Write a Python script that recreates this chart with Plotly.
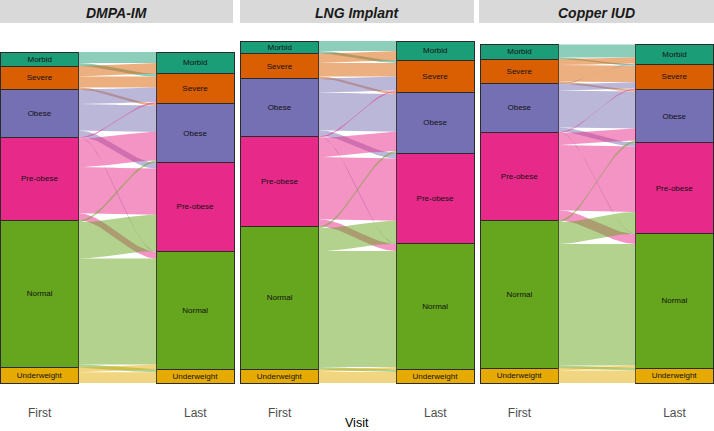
import numpy as np
import plotly.graph_objects as go

# ---------------- data ----------------
categories = ["Morbid", "Severe", "Obese", "Pre-obese", "Normal", "Underweight"]  # top -> bottom
colors = ["#1B9E77", "#D95F02", "#7570B3", "#E7298A", "#66A61E", "#E6AB02"]
methods = ["DMPA-IM", "LNG Implant", "Copper IUD"]
visits = ["First", "Last"]

# transitions: rows = BMI class at first visit, cols = BMI class at last visit
dmpa_flows = [
    [11.0, 3.0, 0.0, 0.0, 0.0, 0.0],
    [10.6, 11.0, 2.0, 0.0, 0.0, 0.0],
    [0.0, 14.5, 26.4, 6.0, 0.5, 0.0],
    [0.0, 1.5, 28.6, 46.2, 7.0, 0.0],
    [0.0, 0.0, 2.0, 36.2, 106.1, 3.0],
    [0.0, 0.0, 0.0, 0.0, 4.7, 10.7],
]
lng_flows = [
    [10.0, 2.6, 0.0, 0.0, 0.0, 0.0],
    [9.3, 13.7, 2.0, 0.0, 0.0, 0.0],
    [0.0, 14.0, 37.7, 5.5, 0.5, 0.0],
    [0.0, 1.4, 19.3, 62.3, 7.0, 0.0],
    [0.0, 0.0, 2.0, 22.8, 116.0, 2.5],
    [0.0, 0.0, 0.0, 0.0, 2.5, 10.9],
]
copper_flows = [
    [13.0, 1.4, 0.0, 0.0, 0.0, 0.0],
    [6.0, 16.6, 2.0, 0.0, 0.0, 0.0],
    [0.7, 6.3, 37.0, 4.0, 0.4, 0.0],
    [0.0, 1.0, 12.0, 65.3, 10.0, 0.0],
    [0.0, 0.0, 2.0, 21.7, 121.5, 2.5],
    [0.0, 0.0, 0.0, 0.0, 2.5, 12.5],
]
all_flows = [dmpa_flows, lng_flows, copper_flows]

# ---------------- layout geometry ----------------
W, H = 714, 431
panel_px = [(0, 235), (240, 475), (480, 714)]
strip_px = [(0, 233), (240, 474), (479, 714)]
panel_top, panel_bot, strip_bot = 23, 400, 23
BOX_W = 0.5


def rgba(hexc, a):
    hexc = hexc.lstrip("#")
    r, g, b = int(hexc[0:2], 16), int(hexc[2:4], 16), int(hexc[4:6], 16)
    return f"rgba({r},{g},{b},{a})"


fig = go.Figure()

s = np.linspace(0, 1, 40)
smooth = 3 * s ** 2 - 2 * s ** 3

for k, M in enumerate(all_flows):
    M = np.array(M)
    n = len(categories)
    first = M.sum(axis=1)
    last = M.sum(axis=0)
    total = first.sum()
    first_top = total - np.concatenate([[0], np.cumsum(first)[:-1]])
    last_top = total - np.concatenate([[0], np.cumsum(last)[:-1]])
    xa = "x" if k == 0 else f"x{k+1}"
    ya = "y" if k == 0 else f"y{k+1}"

    left = {}
    for i in range(n):
        y = first_top[i]
        for j in range(n):
            left[(i, j)] = (y, y - M[i, j])
            y -= M[i, j]
    right = {}
    for j in range(n):
        y = last_top[j]
        for i in range(n):
            right[(i, j)] = (y, y - M[i, j])
            y -= M[i, j]

    x0 = 1 + BOX_W / 2
    x1 = 2 - BOX_W / 2
    xs = x0 + (x1 - x0) * s
    for i in range(n):
        for j in range(n):
            if M[i, j] <= 0:
                continue
            lt, lb = left[(i, j)]
            rt, rb = right[(i, j)]
            top = lt + (rt - lt) * smooth
            bot = lb + (rb - lb) * smooth
            px = np.concatenate([xs, xs[::-1], xs[:1]])
            py = np.concatenate([top, bot[::-1], top[:1]])
            fig.add_trace(go.Scatter(
                x=px, y=py, mode="lines", fill="toself",
                fillcolor=rgba(colors[i], 0.5),
                line=dict(width=0, color="rgba(0,0,0,0)"),
                hoverinfo="skip", showlegend=False, xaxis=xa, yaxis=ya))

    # strata (stacked bars, bottom category first)
    for i in reversed(range(n)):
        fig.add_trace(go.Bar(
            x=[1, 2], y=[first[i], last[i]], width=BOX_W,
            marker=dict(color=colors[i], line=dict(color="#2b2b2b", width=1)),
            text=[categories[i], categories[i]], textposition="inside",
            insidetextanchor="middle", textangle=0, constraintext="none",
            textfont=dict(size=8, color="#111111", family="Liberation Sans, Arial"),
            hoverinfo="skip", showlegend=False, xaxis=xa, yaxis=ya))

ydom = [1 - panel_bot / H, 1 - panel_top / H]
layout = dict(
    width=W, height=H, margin=dict(l=0, r=0, t=0, b=0),
    paper_bgcolor="white", plot_bgcolor="white",
    barmode="stack", showlegend=False,
    uniformtext=dict(minsize=8, mode="show"),
    font=dict(family="Liberation Sans, Arial", color="#4D4D4D"),
)
shapes = []
annotations = []
for k in range(3):
    suf = "" if k == 0 else str(k + 1)
    layout["xaxis" + suf] = dict(
        domain=[panel_px[k][0] / W, panel_px[k][1] / W], range=[0.745, 2.255],
        anchor="y" + suf, tickvals=[1, 2], ticktext=visits, showgrid=False,
        zeroline=False, showline=False, ticks="", ticklabelstandoff=4,
        tickfont=dict(size=12, color="#4D4D4D"), fixedrange=True)
    layout["yaxis" + suf] = dict(
        domain=ydom, range=[-17, 360], anchor="x" + suf, visible=False,
        showgrid=False, zeroline=False, fixedrange=True)
    shapes.append(dict(type="rect", xref="paper", yref="paper",
                       x0=strip_px[k][0] / W, x1=strip_px[k][1] / W,
                       y0=1 - strip_bot / H, y1=1, fillcolor="#D9D9D9",
                       line=dict(width=0), layer="below"))
    annotations.append(dict(
        xref="paper", yref="paper", x=(strip_px[k][0] + strip_px[k][1]) / 2 / W,
        y=1 - 12.5 / H, text=f"<b><i>{methods[k]}</i></b>", showarrow=False,
        xanchor="center", yanchor="middle",
        font=dict(size=14, color="#1A1A1A", family="Liberation Sans, Arial")))
annotations.append(dict(
    xref="paper", yref="paper", x=357 / W, y=1 - 423 / H, text="Visit",
    showarrow=False, xanchor="center", yanchor="middle",
    font=dict(size=12.5, color="#000000", family="Liberation Sans, Arial")))
layout["shapes"] = shapes
layout["annotations"] = annotations
fig.update_layout(**layout)

fig.write_html("out.html", config={"displayModeBar": False, "staticPlot": True},
               post_script="document.body.style.margin='0px';document.body.style.padding='0px';")
